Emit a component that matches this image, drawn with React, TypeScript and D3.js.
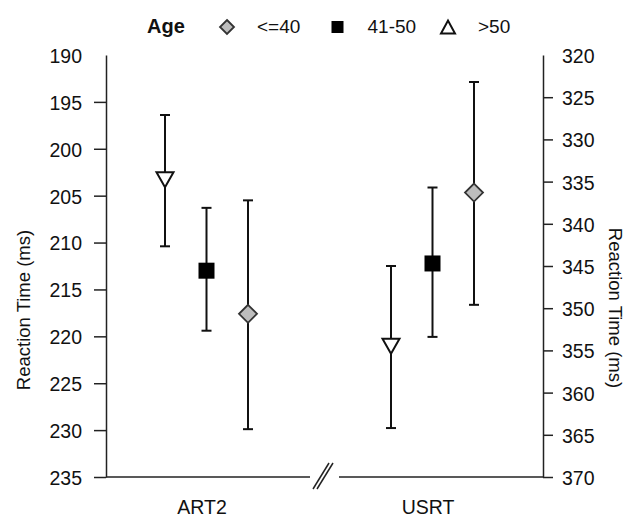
import React, { useEffect, useRef } from "react";
import * as d3 from "d3";

const categories = ["ART2", "USRT"];
const groups = [">50", "41-50", "<=40"];
const legendLabels = ["<=40", "41-50", ">50"];
// ART2 on left axis (ms), USRT on right axis (ms)
const meanART2 = [203.3, 213.0, 217.6];
const lowART2 = [196.4, 206.3, 205.5];
const highART2 = [210.4, 219.4, 229.9];
const meanUSRT = [354.5, 344.7, 336.3];
const lowUSRT = [345.0, 335.7, 323.2];
const highUSRT = [364.2, 353.4, 349.6];
const leftTicks = [190, 195, 200, 205, 210, 215, 220, 225, 230, 235];
const rightTicks = [320, 325, 330, 335, 340, 345, 350, 355, 360, 365, 370];

const W = 637;
const H = 519;
const X0 = 106;
const X1 = 543;
const Y0 = 55;
const Y1 = 477;
const FONT = "'Liberation Sans', Arial, sans-serif";

export default function App() {
  const ref = useRef<SVGSVGElement | null>(null);

  useEffect(() => {
    const svg = d3.select(ref.current);
    svg.selectAll("*").remove();

    const yL = d3.scaleLinear().domain([190, 235]).range([Y0, Y1]);
    const yR = d3.scaleLinear().domain([320, 370]).range([Y0, Y1]);
    const xCat = d3.scalePoint().domain(categories).range([207, 433]);
    const xOff = d3.scalePoint().domain(groups).range([-42, 41]);

    // left axis
    const gL = svg
      .append("g")
      .attr("transform", `translate(${X0},0)`)
      .call(d3.axisLeft(yL).tickValues(leftTicks).tickSize(12).tickSizeOuter(0).tickPadding(12).tickFormat(d3.format("d")));
    // right axis
    const gR = svg
      .append("g")
      .attr("transform", `translate(${X1},0)`)
      .call(d3.axisRight(yR).tickValues(rightTicks).tickSize(10).tickSizeOuter(0).tickPadding(9).tickFormat(d3.format("d")));

    [gL, gR].forEach((g) => {
      g.select(".domain").attr("stroke", "#222").attr("stroke-width", 1.5);
      g.selectAll(".tick line").attr("stroke", "#222").attr("stroke-width", 1.5);
      g.selectAll(".tick text")
        .attr("font-family", FONT)
        .attr("font-size", 19.5)
        .attr("fill", "#111")
        .attr("dy", "0.38em");
      g.selectAll(".tick").filter((_d: any, i: number) => i === 0).select("line").remove();
    });

    // bottom axis with break
    const bx = svg.append("g").attr("stroke", "#222").attr("stroke-width", 1.5);
    bx.append("line").attr("x1", X0).attr("x2", 310).attr("y1", Y1).attr("y2", Y1);
    bx.append("line").attr("x1", 339).attr("x2", X1).attr("y1", Y1).attr("y2", Y1);
    bx.append("line").attr("x1", 313).attr("y1", 489).attr("x2", 329).attr("y2", 463);
    bx.append("line").attr("x1", 317).attr("y1", 489).attr("x2", 333).attr("y2", 463);

    // category labels
    svg
      .append("g")
      .selectAll("text")
      .data(categories)
      .join("text")
      .attr("x", (d) => (xCat(d) as number) - 5)
      .attr("y", 514)
      .attr("text-anchor", "middle")
      .attr("font-family", FONT)
      .attr("font-size", 19.5)
      .attr("fill", "#111")
      .text((d) => d);

    // axis titles
    svg
      .append("text")
      .attr("transform", "translate(30,310) rotate(-90)")
      .attr("text-anchor", "middle")
      .attr("font-family", FONT)
      .attr("font-size", 18.5)
      .attr("fill", "#111")
      .text("Reaction Time (ms)");
    svg
      .append("text")
      .attr("transform", "translate(609,308) rotate(90)")
      .attr("text-anchor", "middle")
      .attr("font-family", FONT)
      .attr("font-size", 18.5)
      .attr("fill", "#111")
      .text("Reaction Time (ms)");

    const tri = (cx: number, cy: number, w: number, h: number, down: boolean) =>
      down
        ? `M${cx - w / 2},${cy - h / 2}L${cx + w / 2},${cy - h / 2}L${cx},${cy + h / 2}Z`
        : `M${cx - w / 2},${cy + h / 2}L${cx + w / 2},${cy + h / 2}L${cx},${cy - h / 2}Z`;

    const drawMarker = (g: any, group: string, cx: number, cy: number, legend: boolean) => {
      if (group === ">50") {
        g.append("path")
          .attr("d", legend ? tri(cx, cy, 14, 13, false) : tri(cx, cy, 17, 15, true))
          .attr("fill", "#fff")
          .attr("stroke", "#111")
          .attr("stroke-width", 2);
      } else if (group === "41-50") {
        const s = legend ? 12 : 16;
        g.append("rect")
          .attr("x", cx - s / 2)
          .attr("y", cy - s / 2)
          .attr("width", s)
          .attr("height", s)
          .attr("fill", "#000");
      } else {
        const r = legend ? 7 : 9;
        g.append("path")
          .attr("d", `M${cx},${cy - r}L${cx + r},${cy}L${cx},${cy + r}L${cx - r},${cy}Z`)
          .attr("fill", "#bdbdbd")
          .attr("stroke", "#333")
          .attr("stroke-width", 1.8);
      }
    };

    const series = [
      { cat: "ART2", y: yL, mean: meanART2, low: lowART2, high: highART2 },
      { cat: "USRT", y: yR, mean: meanUSRT, low: lowUSRT, high: highUSRT },
    ];
    const pts = svg.append("g");
    series.forEach((s) => {
      groups.forEach((grp, i) => {
        const cx = (xCat(s.cat) as number) + (xOff(grp) as number);
        const g = pts.append("g");
        g.append("line")
          .attr("x1", cx).attr("x2", cx)
          .attr("y1", s.y(s.low[i])).attr("y2", s.y(s.high[i]))
          .attr("stroke", "#111").attr("stroke-width", 2);
        [s.low[i], s.high[i]].forEach((v) => {
          g.append("line")
            .attr("x1", cx - 5).attr("x2", cx + 5)
            .attr("y1", s.y(v)).attr("y2", s.y(v))
            .attr("stroke", "#111").attr("stroke-width", 2);
        });
        drawMarker(g, grp, cx, s.y(s.mean[i]), false);
      });
    });

    // legend
    const lg = svg.append("g");
    lg.append("text")
      .attr("x", 147)
      .attr("y", 33)
      .attr("font-family", FONT)
      .attr("font-size", 20)
      .attr("font-weight", "bold")
      .attr("fill", "#111")
      .text("Age");
    const legX = d3.scalePoint().domain(legendLabels).range([227, 448]);
    legendLabels.forEach((lab) => {
      const mx = legX(lab) as number;
      drawMarker(lg, lab, mx, 27, true);
      lg.append("text")
        .attr("x", mx + 30)
        .attr("y", 33)
        .attr("font-family", FONT)
        .attr("font-size", 19)
        .attr("fill", "#111")
        .text(lab);
    });
  }, []);

  return (
    <svg
      ref={ref}
      width={W}
      height={H}
      style={{ position: "absolute", left: 0, top: 0, background: "#fff" }}
    />
  );
}
